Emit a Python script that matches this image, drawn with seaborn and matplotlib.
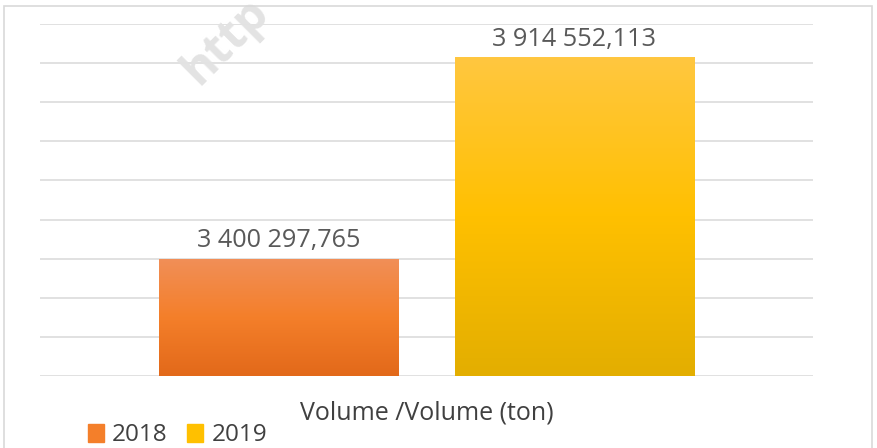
import numpy as np
import pandas as pd
import seaborn as sns
import matplotlib.pyplot as plt
from matplotlib.patches import Rectangle
from matplotlib.colors import LinearSegmentedColormap

category = "Volume /Volume (ton)"
years = ["2018", "2019"]
volumes = [3400297.765, 3914552.113]

# top, middle, bottom shades of each bar gradient
gradients = {
    "2018": ["#F18F58", "#F47F2A", "#E2691A"],
    "2019": ["#FFC740", "#FFC000", "#E3AE00"],
}
palette = {y: g[1] for y, g in gradients.items()}

df = pd.DataFrame({"cat": [category] * len(years), "year": years, "volume": volumes})

sns.set_style("white")
plt.rcParams["font.family"] = ["Open Sans", "DejaVu Sans"]

W, H = 877, 448
fig = plt.figure(figsize=(W / 100, H / 100), dpi=100)
ax = fig.add_axes([40 / W, 1 - 376 / H, (813 - 40) / W, (376 - 24) / H])

sns.barplot(data=df, x="cat", y="volume", hue="year", palette=palette,
            width=0.764, gap=0.19, ax=ax, legend=False)

ax.set_ylim(3100000, 4000000)
ax.set_yticks(np.arange(3100000, 4000001, 100000))
ax.set_xlim(-0.5, 0.5)
ax.yaxis.grid(True, color="#D9D9D9", linewidth=1.1)
ax.set_axisbelow(True)
ax.tick_params(axis="y", left=False, labelleft=False)
ax.tick_params(axis="x", bottom=False, pad=14, labelsize=18, labelcolor="#404040")
ax.set_xlabel("")
ax.set_ylabel("")
for s in ax.spines.values():
    s.set_visible(False)

# gradient fill clipped to each bar
bars = list(ax.patches)
for bar, yr in zip(bars, years):
    cmap = LinearSegmentedColormap.from_list(yr, gradients[yr][::-1])
    x0, y0 = bar.get_x(), ax.get_ylim()[0]
    x1, y1 = x0 + bar.get_width(), bar.get_height()
    grad = np.linspace(0, 1, 256).reshape(-1, 1)
    im = ax.imshow(grad, cmap=cmap, origin="lower", aspect="auto",
                   extent=[x0, x1, y0, y1], zorder=bar.get_zorder())
    im.set_clip_path(bar)
    bar.set_edgecolor("none")
ax.set_xlim(-0.5, 0.5)
ax.set_ylim(3100000, 4000000)

labels = [f"{v:,.3f}".replace(",", " ").replace(".", ",") for v in volumes]
for bar, lab in zip(bars, labels):
    ax.annotate(lab, (bar.get_x() + bar.get_width() / 2, bar.get_height()),
                xytext=(0, 4), textcoords="offset points", ha="center", va="bottom",
                fontsize=18.2, color="#595959")

# legend
handles = [Rectangle((0, 0), 1, 1, color=gradients[y][1]) for y in years]
fig.legend(handles, years, loc="lower left", bbox_to_anchor=(66 / W, -21 / H),
           ncol=2, frameon=False, fontsize=17.5, handlelength=0.65, handleheight=0.75,
           handletextpad=0.35, columnspacing=0.8, labelcolor="#404040")

# chart border
fig.patches.append(Rectangle((4 / W, -0.05), (872 - 4) / W, 1 - 6 / H + 0.05,
                             transform=fig.transFigure, fill=False,
                             edgecolor="#D9D9D9", linewidth=1.2))

# faint watermark
fig.text(198 / W, 1 - 86 / H, "http", rotation=45, rotation_mode="anchor",
         fontsize=34, fontweight="bold", color="#E3E3E3", ha="left", va="baseline",
         zorder=0)

fig.savefig("out.png", dpi=100)
